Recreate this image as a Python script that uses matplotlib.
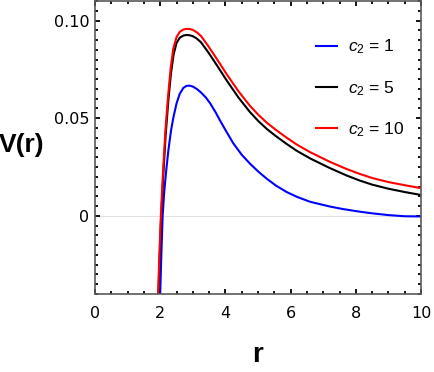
import matplotlib
matplotlib.use("Agg")
import matplotlib.pyplot as plt
from matplotlib.ticker import MultipleLocator, FixedLocator, FixedFormatter

# ---- data ----
r_c1 = [2.00, 2.035, 2.075, 2.12, 2.18, 2.25, 2.33, 2.40, 2.50, 2.60, 2.71, 2.80, 2.89,
        3.00, 3.12, 3.25, 3.40, 3.53, 3.70, 3.83, 4.00, 4.24, 4.50, 4.75, 5.00, 5.27,
        5.55, 5.88, 6.20, 6.60, 7.20, 7.60, 8.10, 8.50, 9.00, 9.50, 10.0]
V_c1 = [-0.040, -0.020, 0.000, 0.0115, 0.0225, 0.0335, 0.0435, 0.0500, 0.0575, 0.0625,
        0.0655, 0.0665, 0.0667, 0.0662, 0.0650, 0.0632, 0.0606, 0.0577, 0.0530, 0.0490,
        0.0440, 0.0372, 0.0313, 0.0268, 0.0228, 0.0190, 0.0155, 0.0122, 0.0097, 0.0072,
        0.0048, 0.0035, 0.0022, 0.0013, 0.0004, -0.0002, -0.0003]

r_c5 = [1.945, 1.985, 2.03, 2.095, 2.17, 2.25, 2.33, 2.41, 2.50, 2.60, 2.71, 2.80, 2.89,
        3.00, 3.12, 3.25, 3.48, 3.75, 4.04, 4.40, 4.75, 5.00, 5.27, 5.55, 5.88, 6.20,
        6.60, 7.20, 7.70, 8.10, 8.50, 9.00, 9.50, 10.0]
V_c5 = [-0.040, -0.020, 0.000, 0.021, 0.042, 0.059, 0.073, 0.0825, 0.0885, 0.0912,
        0.0923, 0.0926, 0.0925, 0.0920, 0.0908, 0.0889, 0.0836, 0.0768, 0.0693, 0.0606,
        0.0532, 0.0487, 0.0445, 0.0408, 0.0368, 0.0332, 0.0294, 0.0245, 0.0208, 0.0182,
        0.0160, 0.0139, 0.0122, 0.0107]

r_c10 = [1.935, 1.975, 2.02, 2.085, 2.16, 2.24, 2.32, 2.40, 2.50, 2.60, 2.71, 2.80, 2.89,
         3.00, 3.12, 3.25, 3.48, 3.75, 4.04, 4.40, 4.75, 5.00, 5.27, 5.55, 5.88, 6.20,
         6.60, 7.20, 7.70, 8.10, 8.50, 9.00, 9.50, 10.0]
V_c10 = [-0.040, -0.020, 0.000, 0.022, 0.044, 0.061, 0.0755, 0.0855, 0.0915, 0.0942,
         0.0954, 0.0957, 0.0957, 0.0952, 0.0940, 0.0921, 0.0868, 0.0800, 0.0725, 0.0638,
         0.0564, 0.0519, 0.0477, 0.0440, 0.0400, 0.0364, 0.0326, 0.0277, 0.0241, 0.0216,
         0.0194, 0.0173, 0.0157, 0.0142]

labels = [r"$c_2$ = 1", r"$c_2$ = 5", r"$c_2$ = 10"]
colors = ["#0000ff", "#000000", "#ff0000"]

x_ticks = [0, 2, 4, 6, 8, 10]
y_ticks = [0, 0.05, 0.10]
y_ticklabels = ["0", "0.05", "0.10"]

plt.rcParams["mathtext.fontset"] = "custom"
plt.rcParams["mathtext.it"] = "Liberation Sans:italic"
plt.rcParams["mathtext.rm"] = "Liberation Sans"

fig = plt.figure(figsize=(4.34, 3.72), dpi=100)
ax = fig.add_axes([95 / 434, 78 / 372, 326 / 434, 293 / 372])

ax.axhline(0, color="#e2e2e2", lw=0.8, zorder=0)
for r, V, c, lab in zip([r_c1, r_c5, r_c10], [V_c1, V_c5, V_c10], colors, labels):
    ax.plot(r, V, color=c, lw=1.5, label=lab, solid_joinstyle="round")

ax.set_xlim(0, 10)
ax.set_ylim(-0.04, 0.11)
ax.xaxis.set_major_locator(FixedLocator(x_ticks))
ax.xaxis.set_minor_locator(MultipleLocator(0.5))
ax.yaxis.set_major_locator(FixedLocator(y_ticks))
ax.yaxis.set_major_formatter(FixedFormatter(y_ticklabels))
ax.yaxis.set_minor_locator(MultipleLocator(0.005))

ax.tick_params(which="both", direction="in", top=True, right=True, color="black")
ax.tick_params(which="major", length=3.5, width=1.3, labelsize=11.5)
ax.tick_params(which="minor", length=2, width=1.3)
ax.tick_params(axis="x", which="major", pad=9)
ax.tick_params(axis="y", which="major", pad=4)

for s in ax.spines.values():
    s.set_color("#5a5a5a")
    s.set_linewidth(1.2)

fig.text(22 / 434, 1 - 145 / 372, "V(r)", family="Liberation Sans", weight="bold",
         fontsize=19, ha="center", va="center")
fig.text(258 / 434, 1 - 355 / 372, "r", family="Liberation Sans", weight="bold",
         fontsize=20, ha="center", va="center")

leg = ax.legend(loc="upper left", bbox_to_anchor=(0.678, 0.875), frameon=False,
                borderpad=0, borderaxespad=0, handlelength=1.2, handletextpad=0.65,
                labelspacing=1.3, prop={"family": "Liberation Sans", "size": 12.5})

fig.savefig("out.png", dpi=100)
